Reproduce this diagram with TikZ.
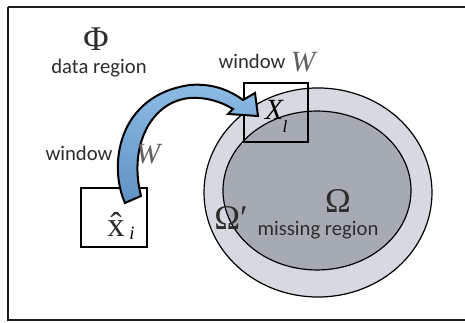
\documentclass[tikz,border=0pt]{standalone}
\usepackage{fontspec}
\setmainfont{Liberation Serif}
\newfontfamily\labelfont{Carlito}
\usetikzlibrary{positioning}
\definecolor{RegionLight}{RGB}{214,217,223}
\definecolor{RegionDark}{RGB}{166,170,178}
\definecolor{ArrowLight}{RGB}{140,188,228}
\definecolor{ArrowDeep}{RGB}{96,146,196}
\definecolor{InkGray}{RGB}{45,45,45}
\definecolor{SymGray}{RGB}{95,95,95}

\tikzset{
  lbl/.style={font=\labelfont\fontsize{15.5}{18}\selectfont, text=InkGray, inner sep=0pt},
  sym/.style={font=\fontsize{26}{30}\selectfont, text=InkGray, inner sep=0pt},
  wsym/.style={font=\fontsize{22}{26}\selectfont\itshape, text=SymGray, inner sep=0pt},
  winbox/.style={draw, line width=1.6pt, inner sep=0pt},
  bigarrow/.style={draw, line width=1.5pt, top color=ArrowLight, bottom color=ArrowDeep},
}

\begin{document}
\begin{tikzpicture}[x=0.75pt,y=-0.75pt]
  \useasboundingbox (0,0) rectangle (465,323);
  % outer frame, open to the right
  \draw[line width=1.9pt, black!88] (8,7) -- (490,7) (8,7) -- (8,320) -- (490,320);

  % boundary band and missing region
  \filldraw[fill=RegionLight, line width=0.9pt] (318,192.5) ellipse [x radius=85.5pt, y radius=78.4pt];
  \filldraw[fill=RegionDark, line width=0.9pt] (317,190.5) ellipse [x radius=70.5pt, y radius=59.6pt];

  % the two windows
  \node[winbox, minimum width=48pt, minimum height=44.5pt] (winTarget) at (276,112.5) {};
  \node[winbox, minimum width=49.5pt, minimum height=44.25pt] (winSource) at (114,217.5) {};

  % curved copy arrow
  \draw[bigarrow] (125,203) .. controls (108,165) and (118,95) .. (190,85)
    .. controls (215,83) and (232,92) .. (243,100) -- (255,93) -- (258,116)
    -- (228,114) -- (233,109)
    .. controls (220,101) and (205,97) .. (190,98)
    .. controls (152,101) and (128,145) .. (141,196) -- cycle;

  % labels
  \node[sym] (phi) at (96,39) {Φ};
  \node[lbl] (dataLbl) at (99,68) {data region};
  \node[lbl] (winTLbl) at (252,61) {window};
  \node[wsym] (winTW) at (303,62) {W};
  \node[lbl] (winSLbl) at (79,153) {window};
  \node[wsym] (winSW) at (148,154) {W};
  \node[font=\fontsize{22}{26}\selectfont\itshape, inner sep=0pt] (xl) at (274,110) {X};
  \node[font=\fontsize{13}{15}\selectfont\itshape, inner sep=0pt] (xlSub) at (285,126) {l};
  \node[sym] (xhat) at (116,224) {\^{x}};
  \node[font=\fontsize{14}{16}\selectfont\itshape, inner sep=0pt] (xhatSub) at (132,233) {i};
  \node[sym, text depth=0pt] (omega) at (338,201.5) {Ω};
  \node[lbl] (missLbl) at (318,230) {missing region};
  \node[sym] (omegaP) at (231,218) {Ω′};
\end{tikzpicture}
\end{document}
